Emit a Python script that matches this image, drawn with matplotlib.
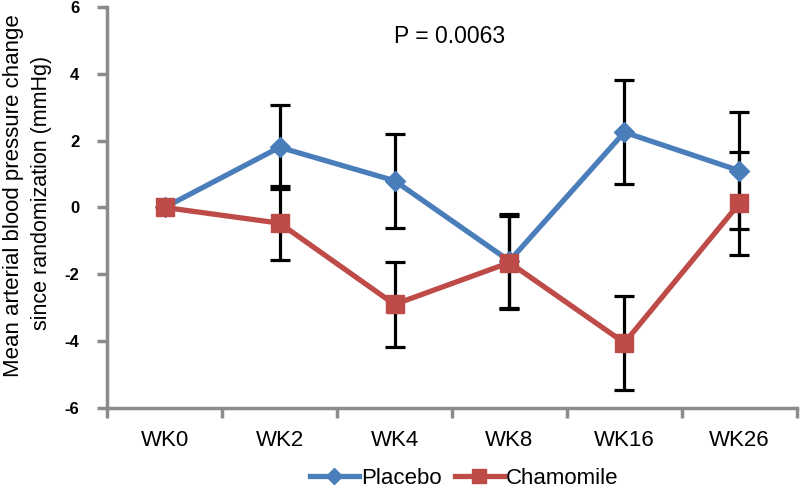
import matplotlib
matplotlib.use("Agg")
import matplotlib.pyplot as plt
import numpy as np

plt.rcParams['font.family'] = ['Liberation Sans', 'DejaVu Sans']

categories = ["WK0", "WK2", "WK4", "WK8", "WK16", "WK26"]
placebo = [0.0, 1.8, 0.8, -1.6, 2.25, 1.1]
placebo_err = [0.0, 1.25, 1.4, 1.4, 1.55, 1.75]
chamomile = [0.0, -0.47, -2.9, -1.65, -4.05, 0.12]
chamomile_err = [0.0, 1.1, 1.27, 1.4, 1.4, 1.55]
y_ticks = [-6, -4, -2, 0, 2, 4, 6]

blue = "#4A7EBB"
red = "#BE4B48"
gray = "#8C8C8C"

fig = plt.figure(figsize=(8, 4.91), dpi=100)
ax = fig.add_axes([0.134, 0.169, 0.862, 0.817])
x = np.arange(len(categories))

# error bars (skip zero-error points)
for vals, errs in [(placebo, placebo_err), (chamomile, chamomile_err)]:
    idx = [i for i, e in enumerate(errs) if e > 0]
    ax.errorbar(x[idx], np.array(vals)[idx], yerr=np.array(errs)[idx], fmt='none',
                ecolor='black', elinewidth=2.3, capsize=7, capthick=2.3, zorder=2)

ax.plot(x, placebo, color=blue, lw=3.8, marker='D', ms=10, mec=blue, mfc=blue,
        label="Placebo", zorder=3)
ax.plot(x, chamomile, color=red, lw=3.8, marker='s', ms=12.5, mec=red, mfc=red,
        label="Chamomile", zorder=4)

ax.set_xlim(-0.5, len(categories) - 0.5)
ax.set_ylim(-6, 6)
ax.set_yticks(y_ticks)
ax.set_yticklabels([str(v) for v in y_ticks], fontsize=12, fontweight='bold')
ax.set_xticks(x)
ax.set_xticklabels(categories, fontsize=16)
ax.set_xticks(np.arange(-0.5, len(categories)), minor=True)
ax.tick_params(axis='x', which='major', length=0, pad=16)
ax.tick_params(axis='x', which='minor', length=7, width=2.5, color=gray, direction='out')
ax.tick_params(axis='y', length=7, width=2.5, color=gray, direction='out', pad=13)

for s in ['top', 'right']:
    ax.spines[s].set_visible(False)
for s in ['left', 'bottom']:
    ax.spines[s].set_color(gray)
    ax.spines[s].set_linewidth(2.5)

fig.text(14 / 800, 1 - 196 / 491, "Mean arterial blood pressure change",
         rotation=90, ha='center', va='center', fontsize=16)
fig.text(42 / 800, 1 - 193 / 491, "since randomization (mmHg)",
         rotation=90, ha='center', va='center', fontsize=15.5)

ax.text(2.48, 5.1, "P = 0.0063", fontsize=16.5, ha='center', va='center')

fig.legend(loc='center', bbox_to_anchor=(0.58, 0.025), ncol=2, frameon=False,
           fontsize=16, handlelength=2.2, columnspacing=0.6, handletextpad=0.1,
           markerscale=0.8, borderpad=0.1)

fig.savefig("out.png", dpi=100)
